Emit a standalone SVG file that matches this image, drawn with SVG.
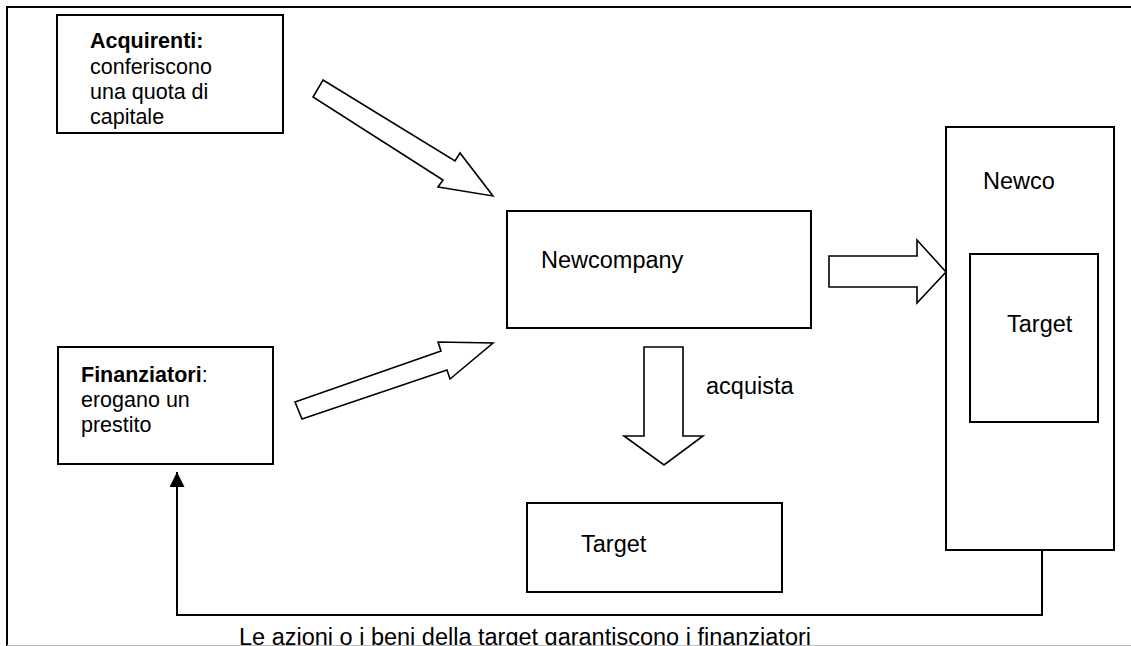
<svg xmlns="http://www.w3.org/2000/svg" width="1131" height="646" viewBox="0 0 1131 646">
<style>
.box{fill:#fff;stroke:#000;stroke-width:2}
.blk{fill:#fff;stroke:#000;stroke-width:1.6;stroke-linejoin:miter}
.t{font-family:"Liberation Sans",Arial,sans-serif;font-size:21.5px;fill:#000}
.tl{font-family:"Liberation Sans",Arial,sans-serif;font-size:23.5px;fill:#000}
.b{font-weight:bold}
.conn{fill:none;stroke:#000;stroke-width:2}
</style>
<defs>
<marker id="ah" viewBox="0 0 10 10" refX="10" refY="5" markerWidth="15" markerHeight="15" markerUnits="userSpaceOnUse" orient="auto">
<path d="M0,0 L10,5 L0,10 Z" fill="#000"/>
</marker>
</defs>
<rect x="0" y="0" width="1131" height="646" fill="#fff"/>
<g id="frame">
<polyline points="7,646 7,7 1131,7" fill="none" stroke="#000" stroke-width="2"/>
</g>
<g id="connectors">
<polygon class="blk" points="323,80 455,161 460,153 493,196 438,187 443,180 313,97"/>
<polygon class="blk" points="295,402 441,351 438,342 493,343 450,379 447,370 302,419"/>
<polygon class="blk" points="644,347 683,347 683,436 703,436 664,465 624,436 644,436"/>
<polygon class="blk" points="829,256 917,256 917,240 946,272 917,303 917,287 829,287"/>
<polyline class="conn" points="1042,550 1042,615 177,615 177,472" marker-end="url(#ah)"/>
</g>
<g id="acquirenti">
<rect class="box" x="57" y="15" width="226" height="118"/>
<text class="t" x="90" y="48"><tspan class="b">Acquirenti:</tspan><tspan x="90" y="74">conferiscono</tspan><tspan x="90" y="99">una quota di</tspan><tspan x="90" y="124">capitale</tspan></text>
</g>
<g id="finanziatori">
<rect class="box" x="58" y="347" width="215" height="117"/>
<text class="t" x="81" y="382"><tspan class="b">Finanziatori</tspan>:<tspan x="81" y="407">erogano un</tspan><tspan x="81" y="432">prestito</tspan></text>
</g>
<g id="newcompany">
<rect class="box" x="507" y="211" width="304" height="117"/>
<text class="tl" x="541" y="268">Newcompany</text>
</g>
<g id="acquista-label">
<text class="tl" x="706" y="394">acquista</text>
</g>
<g id="target">
<rect class="box" x="527" y="503" width="255" height="89"/>
<text class="tl" x="581" y="552">Target</text>
</g>
<g id="newco">
<rect class="box" x="946" y="127" width="168" height="423"/>
<text class="tl" x="983" y="189">Newco</text>
</g>
<g id="newco-target">
<rect class="box" x="970" y="254" width="128" height="168"/>
<text class="tl" x="1007" y="332">Target</text>
</g>
<g id="bottom-label">
<text class="tl" x="239" y="645" textLength="572" lengthAdjust="spacingAndGlyphs">Le azioni o i beni della target garantiscono i finanziatori</text>
</g>
<line x1="7" y1="645.5" x2="1131" y2="645.5" stroke="#bbb" stroke-width="1"/>
</svg>
